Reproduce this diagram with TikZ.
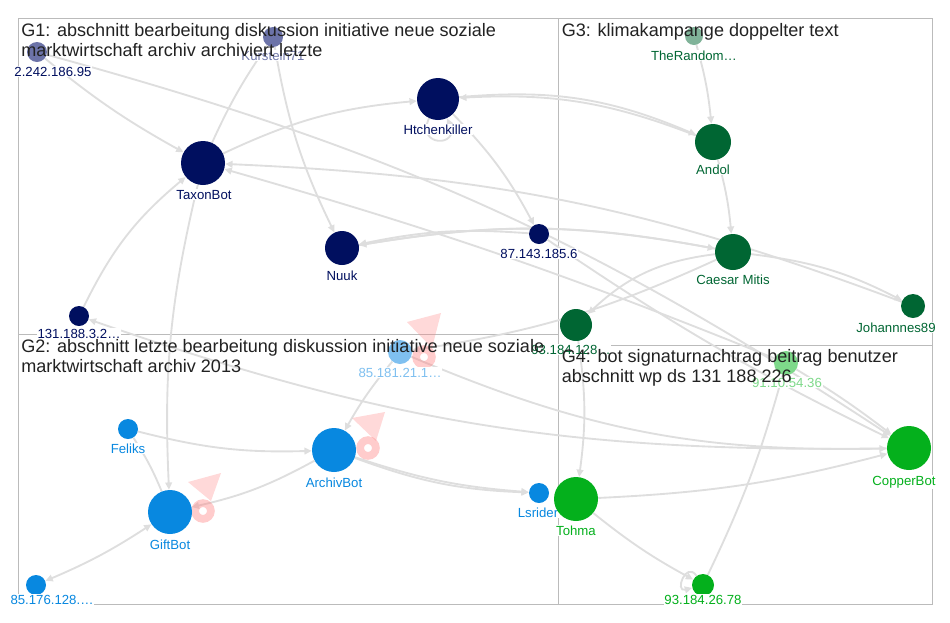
\documentclass[tikz,border=0pt]{standalone}
\usepackage{fontspec}
\setmainfont{Liberation Sans}
\usetikzlibrary{arrows.meta}
\definecolor{navy}{HTML}{000F5F}
\definecolor{lnavy}{HTML}{6C73A8}
\definecolor{kurlbl}{HTML}{7078AA}
\definecolor{dgreen}{HTML}{006633}
\definecolor{lgreenD}{HTML}{80B399}
\definecolor{blue1}{HTML}{0888E0}
\definecolor{lblue}{HTML}{7FC0F0}
\definecolor{green1}{HTML}{04B01C}
\definecolor{lgreen}{HTML}{7ED98A}
\definecolor{edgec}{HTML}{DEDEDE}
\definecolor{boxc}{HTML}{BBBBBB}
\definecolor{ttlc}{HTML}{222222}
\definecolor{pinkc}{HTML}{FF8080}
\tikzset{
  nd/.style={circle,inner sep=0pt,minimum size=#1},
  lbl/.style={font=\fontsize{9.9pt}{11pt}\selectfont,inner sep=0.6pt,fill=white,anchor=base},
  ttl/.style={font=\fontsize{13.55pt}{14.4pt}\selectfont,text=ttlc,align=left,anchor=north west,inner sep=0pt},
  ln/.style={draw=edgec,line width=1.4pt},
  lnk/.style={ln,-{Triangle[length=5.5pt,width=5pt]}},
  lnkb/.style={ln,{Triangle[length=5.5pt,width=5pt]}-{Triangle[length=5.5pt,width=5pt]}},
  grpbox/.style={draw=boxc,line width=0.75pt},
  pinktri/.style={fill=pinkc,opacity=0.3},
  pinkring/.style={draw=pinkc,opacity=0.4,line width=5.8pt}
}
\begin{document}
\begin{tikzpicture}[x=0.75pt,y=-0.75pt]
\useasboundingbox (0,0) rectangle (950,622);
% group boxes
\draw[grpbox] (18,18) rectangle (558,334);
\draw[grpbox] (558,18) rectangle (932,345);
\draw[grpbox] (18,334) rectangle (558,604);
\draw[grpbox] (558,345) rectangle (932,604);

% node positions
\path
 (37,52) node[nd=15pt] (a2242) {}
 (273,37) node[nd=15pt] (kur) {}
 (203,163) node[nd=33pt] (taxon) {}
 (438,99) node[nd=31.5pt] (htch) {}
 (342,248) node[nd=25.5pt] (nuuk) {}
 (539,234) node[nd=15pt] (a87) {}
 (79,316) node[nd=15pt] (a131) {}
 (694,36) node[nd=13.5pt] (ther) {}
 (713,142) node[nd=27pt] (andol) {}
 (733,252) node[nd=27pt] (caesar) {}
 (913,306) node[nd=18pt] (joh) {}
 (576,325) node[nd=24pt] (a93128) {}
 (128,429) node[nd=15pt] (feliks) {}
 (170,512) node[nd=33pt] (giftbot) {}
 (334,450) node[nd=33pt] (archiv) {}
 (400,352) node[nd=18pt] (a85181) {}
 (539,493) node[nd=15pt] (lsrider) {}
 (36,585) node[nd=15pt] (a85176) {}
 (786,363) node[nd=18pt] (ninety1) {}
 (576,499) node[nd=33pt] (tohma) {}
 (909,448) node[nd=33pt] (copper) {}
 (703,585) node[nd=16.5pt] (a93267) {};

% edges
\draw[lnk] (a2242) to[bend right=5] (taxon);
\draw[lnk] (a2242) to[bend left=9] (copper);
\draw[lnk] (kur) to[bend right=8] (nuuk);
\draw[ln] (taxon) to[bend left=5] (kur);
\draw[lnk] (taxon) to[bend left=10] (htch);
\draw[lnk] (htch) to[bend left=8] (a87);
\draw[lnk] (a87) to[bend right=8] (nuuk);
\draw[lnk] (caesar) to[bend right=10] (nuuk);
\draw[lnk] (nuuk) to[bend left=10] (caesar);
\draw[lnk] (htch) to[bend left=14] (andol);
\draw[lnk] (andol) to[bend right=12] (htch);
\draw[lnk] (ther) to[bend left=5] (andol);
\draw[lnk] (andol) to[bend left=5] (caesar);
\draw[lnk] (caesar) to[bend left=10] (joh);
\draw[lnk] (joh) to[bend right=9] (taxon);
\draw[lnk] (ninety1) to[bend right=3] (taxon);
\draw[lnk] (caesar) to[bend right=18] (a93128);
\draw[lnk] (a93128) to[bend left=8] (tohma);
\draw[lnk] (ninety1) to[bend left=3] (copper);
\draw[lnk] (a87) to[bend right=4] (copper);
\draw[ln] (a93267) to[bend right=5] (ninety1);
\draw[lnk] (tohma) to[bend right=5] (a93267);
\draw[lnk] (tohma) to[bend right=6] (copper);
\draw[lnk] (copper) to[bend left=10] (a131);
\draw[lnk] (a85181) to[bend right=12] (copper);
\draw[lnk] (caesar) to[bend left=8] (a85181);
\draw[lnk] (a85181) to[bend right=5] (archiv);
\draw[lnk] (feliks) to[bend right=8] (archiv);
\draw[ln] (feliks) to[bend left=5] (giftbot);
\draw[lnk] (archiv) to[bend left=8] (giftbot);
\draw[lnk] (taxon) to[bend right=8] (giftbot);
\draw[lnk] (a131) to[bend left=12] (taxon);
\draw[lnkb] (giftbot) to[bend left=5] (a85176);
\draw[lnk] (archiv) to[bend right=7] (lsrider);
\draw[lnk] (archiv) to[bend right=9] (lsrider);
\draw[lnk] (htch) to[out=-115,in=-65,min distance=24pt] (htch);
\draw[lnk] (a93267) to[out=125,in=195,min distance=14pt] (a93267);

% red self loops
\fill[pinktri] (188,482) -- (221,473) -- (211,501) -- cycle;
\draw[pinkring] (203,511) circle[radius=5.9pt];
\fill[pinktri] (352,418) -- (385,412) -- (376,441) -- cycle;
\draw[pinkring] (368,448) circle[radius=5.9pt];
\fill[pinktri] (407,322) -- (441,313) -- (432,348) -- cycle;
\draw[pinkring] (424,357) circle[radius=5.9pt];

% nodes with labels
\fill[lnavy] (a2242) circle[radius=7.5pt];
\node[lbl,text=navy] (a2242L) at (53,76) {2.242.186.95};
\fill[lnavy] (kur) circle[radius=7.5pt];
\node[lbl,text=kurlbl] (kurL) at (273,60) {Kurstein71};
\fill[navy] (taxon) circle[radius=16.5pt];
\node[lbl,text=navy] (taxonL) at (204,199) {TaxonBot};
\fill[navy] (htch) circle[radius=15.75pt];
\node[lbl,text=navy] (htchL) at (438,134) {Htchenkiller};
\fill[navy] (nuuk) circle[radius=12.75pt];
\node[lbl,text=navy] (nuukL) at (342,280) {Nuuk};
\fill[navy] (a87) circle[radius=7.5pt];
\node[lbl,text=navy] (a87L) at (539,258) {87.143.185.6};
\fill[navy] (a131) circle[radius=7.5pt];
\node[lbl,text=navy] (a131L) at (79,338) {131.188.3.2…};
\fill[lgreenD] (ther) circle[radius=6.75pt];
\node[lbl,text=dgreen] (therL) at (694,60) {TheRandom…};
\fill[dgreen] (andol) circle[radius=13.5pt];
\node[lbl,text=dgreen] (andolL) at (713,174) {Andol};
\fill[dgreen] (caesar) circle[radius=13.5pt];
\node[lbl,text=dgreen] (caesarL) at (733,284) {Caesar Mitis};
\fill[dgreen] (joh) circle[radius=9pt];
\node[lbl,text=dgreen] (johL) at (896,332) {Johannnes89};
\fill[dgreen] (a93128) circle[radius=12pt];
\node[lbl,text=dgreen] (a93128L) at (571,354) {93.184.128…};
\fill[blue1] (feliks) circle[radius=7.5pt];
\node[lbl,text=blue1] (feliksL) at (128,453) {Feliks};
\fill[blue1] (giftbot) circle[radius=16.5pt];
\node[lbl,text=blue1] (giftL) at (170,549) {GiftBot};
\fill[blue1] (archiv) circle[radius=16.5pt];
\node[lbl,text=blue1] (archivL) at (334,487) {ArchivBot};
\fill[lblue] (a85181) circle[radius=9pt];
\node[lbl,text=lblue] (a85181L) at (400,377) {85.181.21.1…};
\fill[blue1] (a85176) circle[radius=7.5pt];
\node[lbl,text=blue1] (a85176L) at (52,604) {85.176.128.…};
\fill[blue1] (lsrider) circle[radius=7.5pt];
\node[lbl,text=blue1] (lsriderL) at (538,517) {Lsrider};
\fill[lgreen] (ninety1) circle[radius=9pt];
\node[lbl,text=lgreen] (ninety1L) at (787,387) {91.10.54.36};
\fill[green1] (tohma) circle[radius=16.5pt];
\node[lbl,text=green1] (tohmaL) at (576,535) {Tohma};
\fill[green1] (copper) circle[radius=16.5pt];
\node[lbl,text=green1] (copperL) at (904,485) {CopperBot};
\fill[green1] (a93267) circle[radius=8.25pt];
\node[lbl,text=green1] (a93267L) at (703,604) {93.184.26.78};

% titles
\node[ttl] (t1) at (21,23.5) {G1: abschnitt bearbeitung diskussion initiative neue soziale\\marktwirtschaft archiv archiviert letzte};
\node[ttl] (t2) at (21,339.5) {G2: abschnitt letzte bearbeitung diskussion initiative neue soziale\\marktwirtschaft archiv 2013};
\node[ttl] (t3) at (561.5,23.3) {G3: klimakampange doppelter text};
\node[ttl] (t4) at (561.5,349.6) {G4: bot signaturnachtrag beitrag benutzer\\abschnitt wp ds 131 188 226};
\end{tikzpicture}
\end{document}
